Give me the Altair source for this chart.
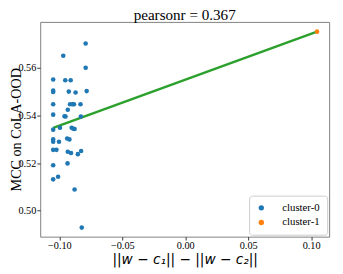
import altair as alt
import pandas as pd

# cluster-0 points
c0_x = [-0.1049, -0.1049, -0.1049, -0.1049, -0.1049, -0.1049, -0.1049, -0.1049, -0.1049, -0.1049,
        -0.1049, -0.1023, -0.1010, -0.1003, -0.0995, -0.0969, -0.0953, -0.0959, -0.0951, -0.0933,
        -0.0938, -0.0920, -0.0933, -0.0935, -0.0925, -0.0915, -0.0910, -0.0907, -0.0902, -0.0894,
        -0.0884, -0.0889, -0.0879, -0.0879, -0.0871, -0.0853, -0.0832, -0.0827, -0.0829, -0.0822,
        -0.0791, -0.0791, -0.0783]
c0_y = [0.5552, 0.5505, 0.5499, 0.5448, 0.5404, 0.5341, 0.5300, 0.5290, 0.5256, 0.5191,
        0.5132, 0.5256, 0.5143, 0.5290, 0.5349, 0.5652, 0.5549, 0.5397, 0.5396, 0.5425,
        0.5304, 0.5300, 0.5248, 0.5199, 0.5501, 0.5448, 0.5549, 0.5243, 0.5349, 0.5448,
        0.5448, 0.5345, 0.5344, 0.5089, 0.5497, 0.5238, 0.5448, 0.5251, 0.5396, 0.4929,
        0.5703, 0.5601, 0.5503]
# cluster-1 point
c1_x = [0.1047]
c1_y = [0.5753]
# fitted line endpoints
line_x = [-0.1049, 0.1047]
line_y = [0.5348, 0.5753]

labels = ["cluster-0", "cluster-1"]
colors = ["#1f77b4", "#ff7f0e"]

pts = pd.DataFrame({
    "x": c0_x + c1_x,
    "y": c0_y + c1_y,
    "cluster": [labels[0]] * len(c0_x) + [labels[1]] * len(c1_x),
})
ln = pd.DataFrame({"x": line_x, "y": line_y})

xs = alt.Scale(domain=[-0.1152, 0.1143], nice=False, zero=False)
ys = alt.Scale(domain=[0.4891, 0.5794], nice=False, zero=False)

serif = "Liberation Serif"

points = alt.Chart(pts).mark_circle(size=22, opacity=1).encode(
    x=alt.X("x:Q", scale=xs, axis=alt.Axis(
        title="||w − c₁|| − ||w − c₂||", values=[-0.1, -0.05, 0.0, 0.05, 0.1], format=".2f",
        titleFont="DejaVu Sans", titleFontSize=14, titleFontStyle="italic", titleFontWeight="normal",
        titleColor="black", titlePadding=2, labelPadding=1)),
    y=alt.Y("y:Q", scale=ys, axis=alt.Axis(
        title="MCC on CoLA-OOD", values=[0.50, 0.52, 0.54, 0.56], format=".2f",
        titleFont=serif, titleFontSize=14.5, titleFontWeight="normal", titleColor="black",
        titleX=-24.5, titleY=110, titleAngle=270, titleAlign="center", titleBaseline="middle",
        labelPadding=1)),
    color=alt.Color("cluster:N", scale=alt.Scale(domain=labels, range=colors),
                    legend=alt.Legend(title=None, orient="none", legendX=214, legendY=178,
                                      labelFont=serif, labelFontSize=11, labelColor="black",
                                      symbolType="circle", symbolSize=30, labelOffset=16,
                                      padding=7, rowPadding=3, strokeColor="#cccccc",
                                      fillColor="white", cornerRadius=3, symbolOpacity=1)),
)

line = alt.Chart(ln).mark_line(color="#2ca02c", strokeWidth=2.5).encode(
    x=alt.X("x:Q", scale=xs), y=alt.Y("y:Q", scale=ys))

chart = alt.layer(line, points).properties(
    width=296, height=220,
    title=alt.Title("pearsonr = 0.367", font=serif, fontSize=15.5, fontWeight="normal",
                    color="black", offset=0, dy=2),
    autosize=alt.AutoSizeParams(type="none"),
    padding={"left": 33, "top": 11, "right": 6, "bottom": 35},
).configure_axis(
    grid=False, labelFont=serif, labelFontSize=10.5, labelColor="black",
    tickColor="#333333", domain=False, tickSize=3.5,
).configure_view(stroke="#808080", strokeWidth=1)

chart.save("out.html", embed_options={"renderer": "svg", "actions": False})
